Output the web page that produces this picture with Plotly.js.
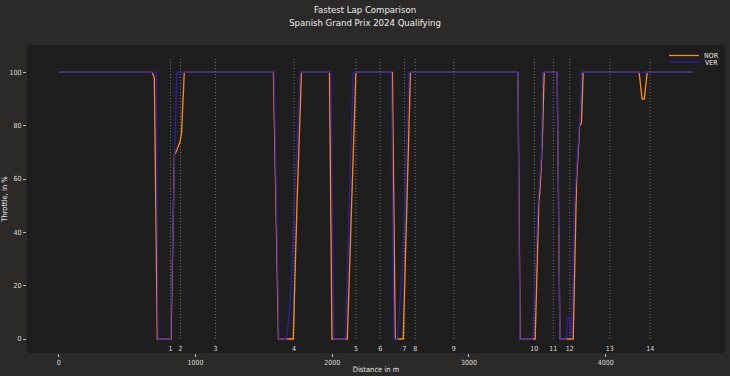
<!DOCTYPE html>
<html>
<head>
<meta charset="utf-8">
<script src="https://cdn.plot.ly/plotly-3.0.1.min.js"></script>
<style>html,body{margin:0;padding:0;background:#2b2a29;}#chart{width:730px;height:376px;}</style>
</head>
<body>
<div id="chart"></div>
<script>
// Distance (m) and throttle (%) for each driver
const norDistance = [0, 682, 699, 721, 821, 846, 865, 887, 898, 918, 1570, 1607, 1715, 1742, 1775, 1980, 1998, 2110, 2173, 2440, 2461, 2519, 2572, 3358, 3374, 3484, 3511, 3518, 3535, 3550, 3645, 3665, 3762, 3787, 3809, 3822, 3835, 4244, 4266, 4282, 4303, 4639];
const norThrottle = [100, 100, 98, 0, 0, 69, 71, 74, 77, 100, 100, 0, 0, 50, 100, 100, 0, 0, 100, 100, 0, 0, 100, 100, 0, 0, 52, 55, 72, 100, 100, 0, 0, 60, 80, 81, 100, 100, 90, 90, 100, 100];
const verDistance = [0, 713, 726, 817, 848, 863, 1574, 1610, 1665, 1691, 1764, 1990, 2012, 2095, 2153, 2433, 2451, 2477, 2517, 2561, 3358, 3372, 3465, 3506, 3531, 3538, 3645, 3665, 3712, 3723, 3738, 3749, 3767, 3787, 3807, 3822, 4639];
const verThrottle = [100, 100, 0, 0, 70, 100, 100, 0, 0, 12, 100, 100, 0, 0, 100, 100, 0, 0, 30, 100, 100, 0, 0, 52, 70, 100, 100, 0, 0, 8, 8, 0, 47, 65, 80, 100, 100];
// Corner markers
const cornerDistance = [817, 891, 1146, 1721, 2173, 2351, 2529, 2607, 2889, 3478, 3617, 3737, 4030, 4325];
const cornerLabels = ["1", "2", "3", "4", "5", "6", "7", "8", "9", "10", "11", "12", "13", "14"];
const xTicks = [0, 1000, 2000, 3000, 4000];
const yTicks = [0, 20, 40, 60, 80, 100];

const FONT = '"Liberation Sans Narrow", "DejaVu Sans Condensed", "Liberation Sans", sans-serif';

const vx = [], vy = [];
cornerDistance.forEach(function (c) { vx.push(c, c, null); vy.push(0, 105, null); });

const traces = [
  {x: vx, y: vy, mode: 'lines', showlegend: false, hoverinfo: 'skip',
   line: {color: 'rgba(175,175,175,0.65)', width: 0.9, dash: '1px,2px'}},
  {x: cornerDistance, y: cornerDistance.map(function () { return -3.7; }), mode: 'text',
   text: cornerLabels, showlegend: false, hoverinfo: 'skip',
   textfont: {family: FONT, size: 7, color: '#dddddd'}},
  {x: norDistance, y: norThrottle, mode: 'lines', name: 'NOR', legend: 'legend',
   line: {color: '#ff8a1c', width: 1.3}},
  {x: verDistance, y: verThrottle, mode: 'lines', name: 'VER', legend: 'legend2',
   line: {color: '#2e1fb4', width: 1.3}, opacity: 0.9}
];

const legendCommon = {xanchor: 'right', yanchor: 'middle', bgcolor: 'rgba(0,0,0,0)',
  xref: 'paper', yref: 'paper', font: {family: FONT, size: 7, color: '#eeeeee'},
  tracegroupgap: 0, itemwidth: 30};
const plotTop = 45, plotH = 376 - 45 - 23, plotL = 27, plotW = 730 - 27 - 5;
function py(pix) { return 1 - (pix - plotTop) / plotH; }
function px(pix) { return (pix - plotL) / plotW; }

const layout = {
  width: 730, height: 376,
  paper_bgcolor: '#2b2a29', plot_bgcolor: '#1f1e1e',
  margin: {l: 27, r: 5, t: 45, b: 23, autoexpand: false},
  font: {family: FONT, color: '#e6e6e6', size: 7},
  title: {text: 'Fastest Lap Comparison<br>Spanish Grand Prix 2024 Qualifying',
          x: 0.5, xanchor: 'center', yref: 'container', y: 0.965, yanchor: 'middle',
          font: {family: FONT, size: 9.5, color: '#eeeeee'}},
  xaxis: {range: [-232, 4872], tickvals: xTicks, ticktext: xTicks.map(String),
          showgrid: false, zeroline: false, showline: false, automargin: false,
          ticks: 'outside', ticklen: 3, tickcolor: '#bbbbbb', tickwidth: 1,
          tickfont: {family: FONT, size: 7, color: '#dddddd'},
          title: {text: 'Distance in m', standoff: 0, font: {family: FONT, size: 7.5, color: '#e6e6e6'}}},
  yaxis: {range: [-5.25, 110.25], tickvals: yTicks, ticktext: yTicks.map(String),
          showgrid: false, zeroline: false, showline: false, automargin: false,
          ticks: 'outside', ticklen: 3, tickcolor: '#bbbbbb', tickwidth: 1,
          tickfont: {family: FONT, size: 7, color: '#dddddd'},
          title: {text: 'Throttle, in %', standoff: 3, font: {family: FONT, size: 7.5, color: '#e6e6e6'}}},
  legend: Object.assign({}, legendCommon, {x: px(724), y: py(55.5)}),
  legend2: Object.assign({}, legendCommon, {x: px(724), y: py(62)}),
  showlegend: true
};

Plotly.newPlot('chart', traces, layout, {staticPlot: true, displayModeBar: false});
</script>
</body>
</html>
